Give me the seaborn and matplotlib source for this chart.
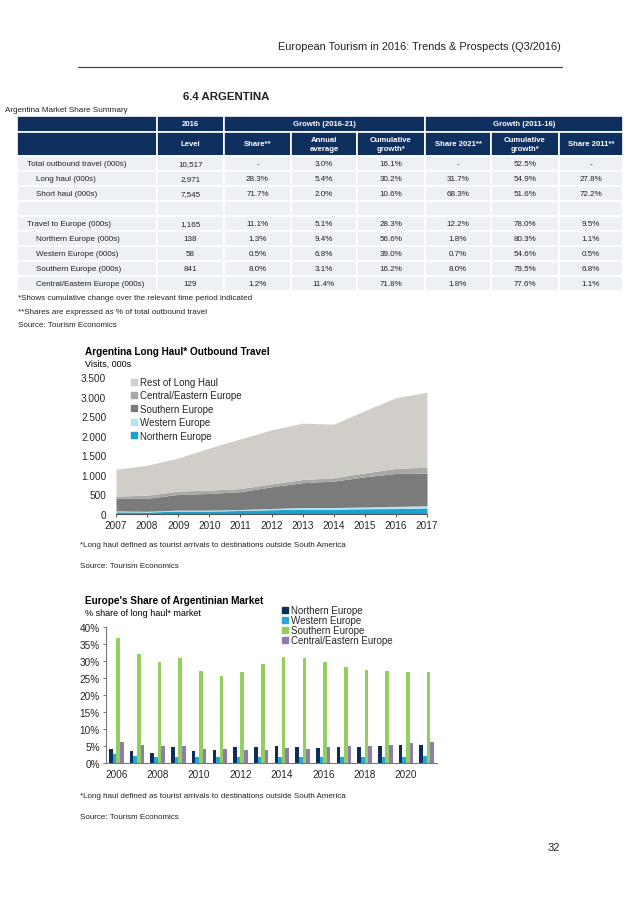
import numpy as np
import pandas as pd
import seaborn as sns
import matplotlib.pyplot as plt
from matplotlib.patches import Rectangle
from matplotlib.lines import Line2D
from matplotlib.ticker import FuncFormatter

# ---- table data ----
row_labels = ["Total outbound travel (000s)", "Long haul (000s)", "Short haul (000s)", "",
              "Travel to Europe (000s)", "Northern Europe (000s)", "Western Europe (000s)",
              "Southern Europe (000s)", "Central/Eastern Europe (000s)"]
row_indent = [0, 1, 1, 0, 0, 1, 1, 1, 1]
level_2016 = ["10,517", "2,971", "7,545", "", "1,165", "138", "58", "841", "129"]
share_2016 = ["-", "28.3%", "71.7%", "", "11.1%", "1.3%", "0.5%", "8.0%", "1.2%"]
annual_avg = ["3.0%", "5.4%", "2.0%", "", "5.1%", "9.4%", "6.8%", "3.1%", "11.4%"]
cum_16_21 = ["16.1%", "30.2%", "10.6%", "", "28.3%", "56.6%", "39.0%", "16.2%", "71.8%"]
share_2021 = ["-", "31.7%", "68.3%", "", "12.2%", "1.8%", "0.7%", "8.0%", "1.8%"]
cum_11_16 = ["52.5%", "54.9%", "51.6%", "", "78.0%", "80.3%", "54.6%", "79.5%", "77.6%"]
share_2011 = ["-", "27.8%", "72.2%", "", "9.5%", "1.1%", "0.5%", "6.8%", "1.1%"]
col_heads = ["Level", "Share**", "Annual\naverage", "Cumulative\ngrowth*",
             "Share 2021**", "Cumulative\ngrowth*", "Share 2011**"]

# ---- long haul area chart (000s) ----
years_area = list(range(2007, 2018))
northern_lh = [55, 50, 75, 75, 90, 110, 125, 125, 135, 138, 155]
western_lh = [25, 20, 25, 25, 25, 30, 40, 40, 45, 58, 55]
southern_lh = [320, 330, 400, 425, 455, 555, 635, 675, 770, 841, 830]
cee_lh = [57, 80, 85, 85, 80, 75, 80, 85, 100, 129, 155]
rest_lh = [683, 765, 845, 1075, 1270, 1380, 1440, 1370, 1590, 1805, 1915]

# ---- europe share bars (%) ----
years_bar = list(range(2006, 2022))
north_share = [4.2, 3.6, 2.8, 4.8, 3.6, 3.8, 4.8, 4.8, 5.0, 4.8, 4.5, 4.7, 4.8, 5.0, 5.3, 5.4]
west_share = [2.7, 2.2, 1.9, 1.8, 1.8, 1.8, 1.8, 1.8, 1.8, 1.8, 1.8, 1.8, 1.8, 1.9, 1.9, 2.0]
south_share = [36.9, 32.1, 29.6, 31.0, 27.1, 25.5, 26.9, 29.1, 31.1, 30.8, 29.7, 28.2, 27.3, 27.0, 26.9, 26.9]
cee_share = [6.1, 5.3, 5.1, 5.0, 4.0, 4.0, 3.7, 3.9, 4.3, 4.0, 4.6, 4.9, 5.1, 5.4, 5.8, 6.1]

sns.set_theme(style="white")
plt.rcParams['font.family'] = ['Liberation Sans', 'DejaVu Sans']

W, H = 638, 903
fig = plt.figure(figsize=(W / 100, H / 100), dpi=100)
page = fig.add_axes([0, 0, 1, 1])
page.set_xlim(0, W)
page.set_ylim(H, 0)
page.axis("off")

txt = "#222222"
navy = "#0f2f5f"
cell = "#edf0f5"
fs_tab = 5.8

# header
page.text(561, 47, "European Tourism in 2016: Trends & Prospects (Q3/2016)", ha="right", va="center",
          fontsize=7.9, color=txt)
page.plot([78, 562], [68, 68], color="#444444", lw=0.9)
page.text(183, 97, "6.4 ARGENTINA", ha="left", va="center", fontsize=8.2, fontweight="bold", color=txt)
page.text(5, 111, "Argentina Market Share Summary", ha="left", va="center", fontsize=5.9, color=txt)

# table
edges = [17, 157, 224, 291, 357, 425, 491, 559, 623]
def box(x0, y0, x1, y1, fc):
    page.add_patch(Rectangle((x0, y0), x1 - x0, y1 - y0, facecolor=fc, edgecolor="white", lw=1.2))

box(edges[0], 117, edges[1], 133, navy)
box(edges[1], 117, edges[2], 133, navy)
box(edges[2], 117, edges[5], 133, navy)
box(edges[5], 117, edges[8], 133, navy)
page.text((edges[1] + edges[2]) / 2, 125, "2016", ha="center", va="center", fontsize=5.6, color="white", fontweight="bold")
page.text((edges[2] + edges[5]) / 2, 125, "Growth (2016-21)", ha="center", va="center", fontsize=5.6, color="white", fontweight="bold")
page.text((edges[5] + edges[8]) / 2, 125, "Growth (2011-16)", ha="center", va="center", fontsize=5.6, color="white", fontweight="bold")
box(edges[0], 133, edges[1], 157, navy)
for i, head in enumerate(col_heads):
    box(edges[i + 1], 133, edges[i + 2], 157, navy)
    page.text((edges[i + 1] + edges[i + 2]) / 2, 145, head, ha="center", va="center", fontsize=5.6,
              color="white", fontweight="bold", linespacing=1.3)

cols = [level_2016, share_2016, annual_avg, cum_16_21, share_2021, cum_11_16, share_2011]
for r, label in enumerate(row_labels):
    y0 = 157 + 15 * r
    box(edges[0], y0, edges[1], y0 + 15, cell)
    page.text(27 + 9 * row_indent[r], y0 + 7.5, label, ha="left", va="center", fontsize=fs_tab, color=txt)
    for c, col in enumerate(cols):
        box(edges[c + 1], y0, edges[c + 2], y0 + 15, cell)
        page.text((edges[c + 1] + edges[c + 2]) / 2, y0 + 7.5, col[r], ha="center", va="center",
                  fontsize=fs_tab, color=txt)

page.text(18, 299, "*Shows cumulative change over the relevant time period indicated", fontsize=fs_tab, color=txt, va="center")
page.text(18, 313, "**Shares are expressed as % of total outbound travel", fontsize=fs_tab, color=txt, va="center")
page.text(18, 326, "Source: Tourism Economics", fontsize=fs_tab, color=txt, va="center")

# ---- chart 1 ----
page.text(85, 352, "Argentina Long Haul* Outbound Travel", fontsize=7.2, fontweight="bold", color="black", va="center")
page.text(85, 364, "Visits, 000s", fontsize=6.5, color="black", va="center")

area_names = ["Northern Europe", "Western Europe", "Southern Europe", "Central/Eastern Europe", "Rest of Long Haul"]
area_colors = ["#19a3cf", "#b5e3f1", "#7b7b7b", "#a8a8a8", "#d1cec9"]
df_area = pd.DataFrame({"Northern Europe": northern_lh, "Western Europe": western_lh,
                        "Southern Europe": southern_lh, "Central/Eastern Europe": cee_lh,
                        "Rest of Long Haul": rest_lh}, index=years_area)

ax1 = fig.add_axes([116 / W, 1 - 515 / H, 311 / W, 137 / H])
df_area[area_names].plot.area(stacked=True, ax=ax1, color=area_colors, linewidth=0, legend=False, alpha=1)
ax1.set_xlim(2007, 2017)
ax1.set_ylim(0, 3500)
ax1.set_xticks(years_area)
ax1.set_xticklabels([str(y) for y in years_area])
ax1.set_yticks(np.arange(0, 3501, 500))
ax1.yaxis.set_major_formatter(FuncFormatter(lambda v, p: f"{int(v):,}".replace(",", ".")))
ax1.set_xlabel("")
for s in ["top", "right", "left"]:
    ax1.spines[s].set_visible(False)
ax1.spines["bottom"].set_color("#555555")
ax1.spines["bottom"].set_linewidth(0.8)
ax1.tick_params(axis="x", labelsize=7.2, length=2.5, width=0.7, color="#555555", direction="out", pad=2, bottom=True)
ax1.tick_params(axis="y", labelsize=7.2, length=0, pad=7)
ax1.set_facecolor("none")

h1 = [Line2D([], [], marker="s", ls="none", color=c, markersize=4) for c in area_colors[::-1]]
ax1.legend(h1, area_names[::-1], loc="upper left", bbox_to_anchor=(131 / W, 1 - 378 / H),
           bbox_transform=fig.transFigure, frameon=False, fontsize=7, handlelength=0.6,
           handletextpad=0.35, labelspacing=0.35, borderpad=0, borderaxespad=0)

page.text(80, 546, "*Long haul defined as tourist arrivals to destinations outside South America", fontsize=fs_tab, color=txt, va="center")
page.text(80, 567, "Source: Tourism Economics", fontsize=fs_tab, color=txt, va="center")

# ---- chart 2 ----
page.text(85, 601, "Europe's Share of Argentinian Market", fontsize=7.2, fontweight="bold", color="black", va="center")
page.text(85, 614, "% share of long haul* market", fontsize=6.5, color="black", va="center")

bar_names = ["Northern Europe", "Western Europe", "Southern Europe", "Central/Eastern Europe"]
bar_colors = ["#0b2f5b", "#27a7d5", "#93cf60", "#8f7cab"]
df_bar = pd.DataFrame({"year": [str(y) for y in years_bar] * 4,
                       "region": np.repeat(bar_names, len(years_bar)),
                       "share": north_share + west_share + south_share + cee_share})

ax2 = fig.add_axes([106 / W, 1 - 764 / H, 331 / W, 136 / H])
sns.barplot(data=df_bar, x="year", y="share", hue="region", hue_order=bar_names, palette=bar_colors,
            saturation=1, width=0.7, errorbar=None, legend=False, linewidth=0, ax=ax2)
ax2.set_xlim(-0.5, len(years_bar) - 0.5)
ax2.set_ylim(0, 40)
ax2.set_yticks(np.arange(0, 41, 5))
ax2.yaxis.set_major_formatter(FuncFormatter(lambda v, p: f"{v:.0f}%"))
ax2.set_xticks(range(0, len(years_bar), 2))
ax2.set_xticklabels([str(y) for y in years_bar[::2]])
ax2.set_xlabel("")
ax2.set_ylabel("")
for s in ["top", "right"]:
    ax2.spines[s].set_visible(False)
for s in ["left", "bottom"]:
    ax2.spines[s].set_color("#777777")
    ax2.spines[s].set_linewidth(0.8)
ax2.tick_params(axis="x", labelsize=7.2, length=0, pad=4)
ax2.tick_params(axis="y", labelsize=7.2, length=2.5, width=0.7, color="#777777", left=True, pad=2)
ax2.set_facecolor("none")

h2 = [Line2D([], [], marker="s", ls="none", color=c, markersize=4) for c in bar_colors]
ax2.legend(h2, bar_names, loc="upper left", bbox_to_anchor=(282 / W, 1 - 606 / H),
           bbox_transform=fig.transFigure, frameon=False, fontsize=7, handlelength=0.6,
           handletextpad=0.3, labelspacing=0.0, borderpad=0, borderaxespad=0)

page.text(80, 797, "*Long haul defined as tourist arrivals to destinations outside South America", fontsize=fs_tab, color=txt, va="center")
page.text(80, 818, "Source: Tourism Economics", fontsize=fs_tab, color=txt, va="center")

page.text(548, 848, "32", fontsize=8, color=txt, va="center")

fig.savefig("out.png", dpi=100)
